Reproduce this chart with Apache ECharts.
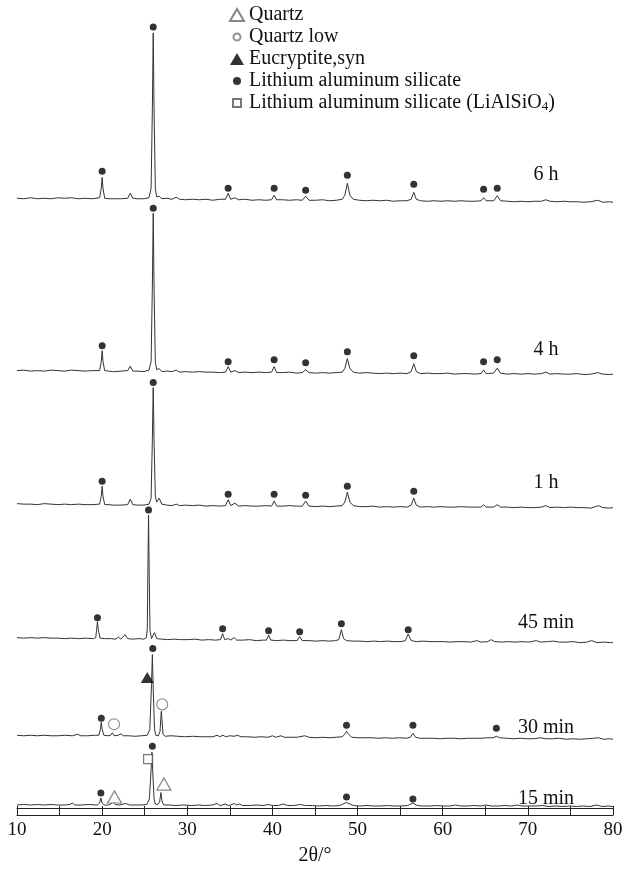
<!DOCTYPE html>
<html><head><meta charset="utf-8">
<script src="https://cdn.jsdelivr.net/npm/echarts@6/dist/echarts.min.js"></script>
<style>html,body{margin:0;padding:0;background:#fff}#chart{width:631px;height:871px}</style>
</head><body><div id="chart"></div>
<script>
// ---------- DATA ----------
const sampleLabels = ['6 h', '4 h', '1 h', '45 min', '30 min', '15 min'];
const xTicks = [10, 20, 30, 40, 50, 60, 70, 80];

const pattern6h = [[10,4],[10.8,3.5],[11.6,4.5],[12.4,3.5],[13.2,4],[14,3.5],[14.8,4.5],[15.6,4],[16.4,4.5],[17.2,3.5],[18,4],[18.8,3.5],[19.7,4.5],[19.9,14],[20.0,25],[20.1,14],[20.3,4],[20.8,3.5],[21.2,3.5],[21.4,5.5],[21.6,3.5],[22.2,3.5],[23.0,4],[23.3,9],[23.6,4],[24.2,3.5],[24.9,3.5],[25.5,4.5],[25.75,14],[25.9,95],[26.0,170],[26.1,90],[26.25,14],[26.4,5.5],[26.7,6],[27.0,3.5],[27.6,4],[28.2,3],[28.7,5],[29.1,3],[29.8,2.5],[30.6,3],[31.4,2.5],[32.2,3],[33.0,2],[33.8,3],[34.5,3],[34.8,9],[35.1,3],[35.6,4.5],[36.0,2.5],[36.8,3],[37.6,2],[38.4,2.5],[39.2,2],[39.9,2.5],[40.2,7],[40.5,2.5],[41.2,2.5],[42.0,2],[42.8,2.5],[43.5,2],[43.9,6],[44.3,2],[45.1,2],[45.9,2.5],[46.7,1.5],[47.5,2],[48.2,3],[48.5,7],[48.8,19],[49.1,7],[49.5,3],[50.2,2],[51.0,1.5],[51.8,2],[52.6,1.5],[53.4,2],[54.2,1],[55.0,1.5],[55.8,1.5],[56.3,3],[56.6,10],[56.9,3],[57.4,1.5],[58.2,1],[59.0,1.5],[59.8,1],[60.6,1.5],[61.4,1],[62.2,1.5],[63.0,1],[63.8,1],[64.5,1.5],[64.8,4.5],[65.1,1.5],[66.0,1.5],[66.4,6.5],[66.8,1.5],[67.6,1],[68.4,0.5],[69.2,1],[70.0,0.5],[70.8,1],[71.6,1],[72.1,2.5],[72.6,1],[73.4,0.5],[74.2,1],[75.0,0.5],[75.8,0.5],[76.6,0],[77.4,0.5],[78.2,2],[78.8,0],[79.6,0.5],[80,0]];

const pattern4h = [[10,4],[10.8,4.5],[11.6,3.5],[12.4,4],[13.2,3.5],[14,4.5],[14.8,4],[15.6,3.5],[16.4,4.5],[17.2,4],[18,3.5],[18.8,4],[19.7,4],[19.9,13],[20.0,24],[20.1,13],[20.3,4],[20.8,3.5],[21.2,3],[21.4,5],[21.6,3],[22.2,3.5],[23.0,4],[23.3,8.5],[23.6,3.5],[24.2,3.5],[24.9,3],[25.5,4.5],[25.75,13],[25.9,90],[26.0,162],[26.1,85],[26.25,13],[26.4,5],[26.7,6],[27.0,3],[27.6,3.5],[28.2,3],[28.7,4.5],[29.1,2.5],[29.8,3],[30.6,2.5],[31.4,3],[32.2,2.5],[33.0,2.5],[33.8,2],[34.5,2.5],[34.8,8],[35.1,2.5],[35.6,4],[36.0,2],[36.8,2.5],[37.6,2],[38.4,2.5],[39.2,2],[39.9,2.5],[40.2,8],[40.5,2],[41.2,2],[42.0,2.5],[42.8,1.5],[43.5,2],[43.9,5],[44.3,2],[45.1,1.5],[45.9,2],[46.7,1.5],[47.5,2],[48.2,2.5],[48.5,6],[48.8,16],[49.1,6],[49.5,2.5],[50.2,1.5],[51.0,2],[51.8,1.5],[52.6,1],[53.4,1.5],[54.2,1],[55.0,1.5],[55.8,1],[56.3,3],[56.6,11],[56.9,3],[57.4,1],[58.2,1.5],[59.0,1],[59.8,1],[60.6,1.5],[61.4,0.5],[62.2,1],[63.0,1],[63.8,0.5],[64.5,1],[64.8,4.5],[65.1,1],[66.0,1.5],[66.4,6.5],[66.8,1.5],[67.6,0.5],[68.4,1],[69.2,0.5],[70.0,1],[70.8,0.5],[71.6,1],[72.1,2.5],[72.6,0.5],[73.4,1],[74.2,0.5],[75.0,0.5],[75.8,1],[76.6,0],[77.4,0.5],[78.2,2],[78.8,0.5],[79.6,0],[80,0.5]];

const pattern1h = [[10,4.5],[10.8,4],[11.6,4],[12.4,3.5],[13.2,4.5],[14,4],[14.8,3.5],[15.6,4],[16.4,3.5],[17.2,4],[18,3.5],[18.8,3.5],[19.7,4],[19.9,12],[20.0,22],[20.1,12],[20.3,3.5],[20.8,3.5],[21.2,3],[21.4,4.5],[21.6,3],[22.2,3],[23.0,3.5],[23.3,9],[23.6,3.5],[24.2,3],[24.9,3],[25.5,4],[25.75,10],[25.9,70],[26.0,121],[26.1,65],[26.25,12],[26.4,6],[26.7,10],[27.0,4],[27.6,3],[28.2,2.5],[28.7,4],[29.1,2.5],[29.8,3],[30.6,2.5],[31.4,3],[32.2,2],[33.0,2.5],[33.8,2],[34.5,2.5],[34.8,8.5],[35.1,2.5],[35.6,5],[36.0,2],[36.8,2.5],[37.6,2],[38.4,2],[39.2,2.5],[39.9,2],[40.2,7],[40.5,2],[41.2,2],[42.0,2.5],[42.8,2],[43.5,2],[43.9,7],[44.3,2],[45.1,1.5],[45.9,2],[46.7,1.5],[47.5,2],[48.2,2.5],[48.5,6],[48.8,16],[49.1,6],[49.5,2.5],[50.2,1.5],[51.0,1.5],[51.8,2],[52.6,1],[53.4,1.5],[54.2,1],[55.0,1.5],[55.8,1],[56.3,3],[56.6,10],[56.9,3],[57.4,1],[58.2,1.5],[59.0,1],[59.8,1.5],[60.6,1],[61.4,1],[62.2,1.5],[63.0,1],[63.8,1],[64.5,1],[64.8,3.5],[65.1,1],[66.0,1],[66.4,3.5],[66.8,1],[67.6,1],[68.4,0.5],[69.2,1],[70.0,0.5],[70.8,0.5],[71.6,1],[72.1,2.5],[72.6,0.5],[73.4,1],[74.2,0.5],[75.0,1],[75.8,0.5],[76.6,0.5],[77.4,0],[78.3,2.5],[78.8,0.5],[79.6,0],[80,0.5]];

const pattern45min = [[10,5],[10.8,4.5],[11.6,5],[12.4,4.5],[13.2,5],[14,4.5],[14.8,4.5],[15.6,4],[16.4,4.5],[17.2,4],[18,4.5],[19.0,4],[19.25,5],[19.35,13],[19.45,21],[19.55,13],[19.75,4.5],[20.3,4],[21.0,4],[21.6,3.5],[21.9,5.5],[22.2,3.5],[22.4,4],[22.7,8],[23.0,4],[23.6,3.5],[24.3,4],[24.9,3.5],[25.2,5],[25.3,14],[25.37,70],[25.45,128],[25.53,68],[25.62,12],[25.8,4],[26.15,10],[26.4,4],[27.0,3.5],[27.7,3],[28.4,3.5],[29.2,3],[30.1,3],[30.9,3.5],[31.7,2.5],[32.5,3],[33.3,2.5],[33.9,3],[34.15,9],[34.4,3],[34.8,4],[35.1,2.5],[35.5,5],[35.8,2.5],[36.5,2.5],[37.3,3],[38.1,2],[38.9,2.5],[39.3,2.5],[39.55,7.5],[39.8,2.5],[40.5,2],[41.3,2.5],[42.1,2],[42.9,2],[43.2,6],[43.5,2],[44.3,2],[45.1,1.5],[45.9,2],[46.7,1.5],[47.4,2],[47.8,3],[47.9,4.5],[48.1,13],[48.35,4],[48.7,2],[49.5,1.5],[50.3,1.5],[51.1,1],[51.9,1.5],[52.7,1],[53.5,1.5],[54.3,1],[55.1,1],[55.6,2],[55.95,8.5],[56.3,2],[56.9,1],[57.7,1.5],[58.5,1],[59.3,1],[60.1,1],[60.9,0.5],[61.7,1],[62.5,1],[63.3,0.5],[64.0,2],[64.5,0.5],[65.3,1],[65.7,3],[66.1,1],[66.9,0.5],[67.7,1],[68.5,0.5],[69.3,1],[70.1,0.5],[71.0,2],[71.5,0.5],[72.3,1],[73.0,1.5],[73.7,0.5],[74.5,0.5],[75.3,1],[76.1,0],[76.9,0.5],[77.5,2],[78.1,0],[78.9,0.5],[79.7,0],[80,0]];

const pattern30min = [[10,4],[10.8,3.5],[11.6,4],[12.4,3.5],[13.2,4],[14,3.5],[14.8,3.5],[15.6,4],[16.5,3.5],[17.1,5],[17.5,3.5],[18.3,3.5],[19.1,4],[19.6,4],[19.8,10],[19.9,17],[20.0,10],[20.2,4],[20.7,3.5],[21.0,4],[21.2,6.5],[21.4,3.5],[21.9,4],[22.2,5.5],[22.5,3.5],[23.1,3.5],[23.9,3],[24.6,3.5],[25.3,4],[25.6,10],[25.8,55],[25.9,85],[26.0,50],[26.15,10],[26.3,4],[26.6,3.5],[26.8,8],[26.9,22],[26.95,28],[27.02,20],[27.15,5],[27.4,3],[28.1,3.5],[28.9,3],[29.7,2.5],[30.7,3],[31.5,2.5],[32.3,2.5],[33.0,2.5],[33.5,4],[33.8,2.5],[34.2,4],[34.5,2.5],[35.0,3.5],[35.5,3],[35.9,4],[36.3,2.5],[37.1,2.5],[37.9,2],[38.7,2.5],[39.5,2],[40.0,3.5],[40.4,2],[41.0,3.5],[41.4,2],[42.1,2],[42.9,2],[43.8,3.5],[44.3,2],[45.1,1.5],[45.9,2],[46.7,1.5],[47.5,2],[48.2,2.5],[48.5,5],[48.7,8],[48.95,5],[49.3,2],[50.1,1.5],[50.9,1.5],[51.7,1.5],[52.5,1],[53.3,1.5],[54.1,1],[54.9,1.5],[55.7,1],[56.2,2],[56.5,6],[56.8,2],[57.3,1],[58.1,1],[58.9,1],[59.7,0.5],[60.5,1],[61.3,1],[62.1,0.5],[62.9,1],[63.7,1],[64.5,1],[65.3,1.5],[65.9,1.5],[66.3,3],[66.7,1.5],[67.5,1],[68.3,0.5],[69.1,1],[69.9,0.5],[70.7,0.5],[71.5,1.5],[72.1,0.5],[72.9,0.5],[73.7,1],[74.5,0],[75.3,0.5],[76.1,0],[76.9,0.5],[77.7,1],[78.3,1.5],[78.9,0],[79.6,0.5],[80,0]];

const pattern15min = [[10,2],[10.8,2.5],[11.6,2],[12.4,2.5],[13.2,2],[14,2.5],[14.8,2],[15.6,2],[16.2,2.5],[16.5,4],[16.8,2],[17.6,2],[18.4,2.5],[19.45,2],[19.7,4],[19.85,9],[20.0,4],[20.25,2],[20.65,2],[20.95,2.5],[21.25,5],[21.55,2.5],[22.05,2],[22.75,3.5],[23.25,2],[23.85,2],[24.55,2],[25.25,2.5],[25.55,8],[25.75,38],[25.85,55],[25.95,34],[26.1,8],[26.25,3],[26.55,2.5],[26.75,5],[26.9,14.5],[27.05,5],[27.25,2],[27.85,2],[28.65,1.5],[29.45,2],[30.5,1.5],[31.3,2],[32.1,1.5],[32.9,2],[33.5,3.5],[33.8,1.5],[34.1,2],[34.5,3],[34.8,1.5],[35.1,2],[35.5,3.5],[35.8,2],[36.1,3],[36.5,1.5],[37.3,1.5],[38.1,2],[38.9,1.5],[39.5,2.5],[40.0,1.5],[40.7,1.5],[41.3,3],[41.8,1.5],[42.5,1.5],[43.3,2.5],[43.9,1.5],[44.7,1.5],[45.5,1],[46.3,1.5],[47.1,1],[47.9,1.5],[48.3,3],[48.7,4.5],[49.1,3],[49.5,1.5],[50.3,1],[51.1,1.5],[51.9,1],[52.7,1],[53.5,1.5],[54.3,1],[55.1,1],[55.9,1.5],[56.5,4],[57.0,1.5],[57.7,1],[58.5,1],[59.3,1.5],[60.1,1],[60.9,1],[61.5,2],[62.1,1],[62.9,1],[63.7,1.5],[64.5,1],[65.1,2],[65.7,1],[66.5,1],[67.3,1.5],[68.1,1],[68.7,2],[69.3,1],[70.1,1],[70.9,1],[71.7,1.5],[72.5,0.5],[73.3,1],[74.1,0.5],[74.9,1],[75.7,0.5],[76.5,1],[77.3,0.5],[78.1,2],[78.7,0.5],[79.5,1],[80,0.5]];

const patterns = [pattern6h, pattern4h, pattern1h, pattern45min, pattern30min, pattern15min];

// phase markers: [sample index, 2θ, level above that sample's zero]
const phaseNames = ['Quartz', 'Quartz low', 'Eucryptite,syn', 'Lithium aluminum silicate', 'Lithium aluminum silicate (LiAlSiO4)'];
const quartzMarks = [[5, 21.45, 10], [5, 27.25, 23]];
const quartzLowMarks = [[4, 21.4, 15], [4, 27.05, 35]];
const eucryptiteMarks = [[4, 25.3, 62]];
const lithiumSilicateMarks = [
  [0, 20.0, 31], [0, 26.0, 176], [0, 34.8, 14], [0, 40.2, 14], [0, 43.9, 12], [0, 48.8, 27], [0, 56.6, 18], [0, 64.8, 13], [0, 66.4, 14],
  [1, 20.0, 29], [1, 26.0, 167], [1, 34.8, 13], [1, 40.2, 15], [1, 43.9, 12], [1, 48.8, 23], [1, 56.6, 19], [1, 64.8, 13], [1, 66.4, 15],
  [2, 20.0, 27], [2, 26.0, 126], [2, 34.8, 14], [2, 40.2, 14], [2, 43.9, 13], [2, 48.8, 22], [2, 56.6, 17],
  [3, 19.45, 25], [3, 25.45, 133], [3, 34.15, 14], [3, 39.55, 12], [3, 43.2, 11], [3, 48.1, 19], [3, 55.95, 13],
  [4, 19.9, 21], [4, 25.95, 91], [4, 48.7, 14], [4, 56.5, 14], [4, 66.3, 11],
  [5, 19.85, 14], [5, 25.9, 61], [5, 48.7, 10], [5, 56.5, 8]
];
const liAlSiO4Marks = [[5, 25.4, 48]];

// ---------- LAYOUT ----------
const stackZero = [608, 435, 301, 166, 69, 1];      // vertical stacking offsets (px units of the hidden y axis)
const labelPos = [[546, 175], [546, 350], [546, 483], [546, 623], [546, 728], [546, 799]];
const FONT = '"Liberation Serif", "Times New Roman", serif';
const lineColor = '#333';

const chart = echarts.init(document.getElementById('chart'), null, {renderer: 'canvas'});

const lineSeries = patterns.map((p, i) => ({
  type: 'line', name: sampleLabels[i], xAxisIndex: 1, yAxisIndex: 0,
  data: p.map(([x, v]) => [x, v + stackZero[i]]),
  showSymbol: false, symbol: 'none', silent: true,
  lineStyle: {color: lineColor, width: 1}, z: 2
}));

function marks(list) { return list.map(([s, x, l]) => [x, stackZero[s] + l]); }

const markerSeries = [
  {name: phaseNames[0], symbol: 'triangle', symbolSize: [14, 12], itemStyle: {color: '#fff', borderColor: '#666', borderWidth: 1.2}, data: marks(quartzMarks)},
  {name: phaseNames[1], symbol: 'circle', symbolSize: 11, itemStyle: {color: '#fff', borderColor: '#777', borderWidth: 1.2}, data: marks(quartzLowMarks)},
  {name: phaseNames[2], symbol: 'triangle', symbolSize: [13, 11], itemStyle: {color: '#000'}, data: marks(eucryptiteMarks)},
  {name: phaseNames[3], symbol: 'circle', symbolSize: 7, itemStyle: {color: '#000'}, data: marks(lithiumSilicateMarks)},
  {name: phaseNames[4], symbol: 'rect', symbolSize: 9, itemStyle: {color: '#fff', borderColor: '#555', borderWidth: 1.2}, data: marks(liAlSiO4Marks)}
].map(s => Object.assign({type: 'scatter', xAxisIndex: 1, yAxisIndex: 0, z: 5, silent: true}, s));

const option = {
  animation: false,
  backgroundColor: '#fff',
  grid: {left: 17, right: 18, top: 0, bottom: 60, containLabel: false},
  legend: {
    orient: 'vertical', left: 229, top: 5, padding: 0, itemWidth: 14, itemHeight: 12, itemGap: 2, itemTextGap: 7,
    selectedMode: false,
    textStyle: {fontFamily: FONT, fontSize: 20, color: '#111',
      rich: {n: {fontFamily: FONT, fontSize: 20, lineHeight: 20, color: '#111'},
             s: {fontFamily: FONT, fontSize: 13, lineHeight: 10, color: '#111', verticalAlign: 'bottom', padding: [7, 0, 0, 0]}}},
    formatter: name => name.endsWith('(LiAlSiO4)') ? '{n|Lithium aluminum silicate (LiAlSiO}{s|4}{n|)}' : name,
    data: [
      {name: phaseNames[0]},
      {name: phaseNames[1], icon: 'path://M0,0M14,12M7,2.5A3.5,3.5 0 1,1 7,9.5A3.5,3.5 0 1,1 7,2.5Z'},
      {name: phaseNames[2]},
      {name: phaseNames[3], icon: 'path://M0,0M14,12M7,2A4,4 0 1,1 7,10A4,4 0 1,1 7,2Z'},
      {name: phaseNames[4], icon: 'path://M0,0M14,12M3,2H11V10H3Z'}
    ]
  },
  xAxis: [
    {type: 'value', min: 10, max: 80, interval: 5, position: 'bottom',
     axisLine: {show: true, lineStyle: {color: '#222', width: 1}},
     axisTick: {show: false}, axisLabel: {show: false}, splitLine: {show: false}},
    {type: 'value', min: 10, max: 80, interval: 5, position: 'bottom', offset: 7,
     axisLine: {show: true, lineStyle: {color: '#222', width: 1}},
     axisTick: {show: true, inside: true, length: 9, lineStyle: {color: '#222', width: 1}},
     axisLabel: {formatter: v => (xTicks.indexOf(v) >= 0 ? String(v) : ''), fontFamily: FONT, fontSize: 19, color: '#111', margin: 6},
     splitLine: {show: false},
     name: '2θ/°', nameLocation: 'middle', nameGap: 31,
     nameTextStyle: {fontFamily: FONT, fontSize: 20, color: '#111'}}
  ],
  yAxis: {type: 'value', min: 0, max: 811, show: false, splitLine: {show: false}},
  graphic: sampleLabels.map((t, i) => ({
    type: 'text', x: labelPos[i][0], y: labelPos[i][1], z: 10,
    style: {text: t, font: '20px ' + FONT, fill: '#111', align: 'center', verticalAlign: 'middle', textAlign: 'center', textVerticalAlign: 'middle'}
  })),
  series: lineSeries.concat(markerSeries)
};
chart.setOption(option);
</script>
</body></html>
